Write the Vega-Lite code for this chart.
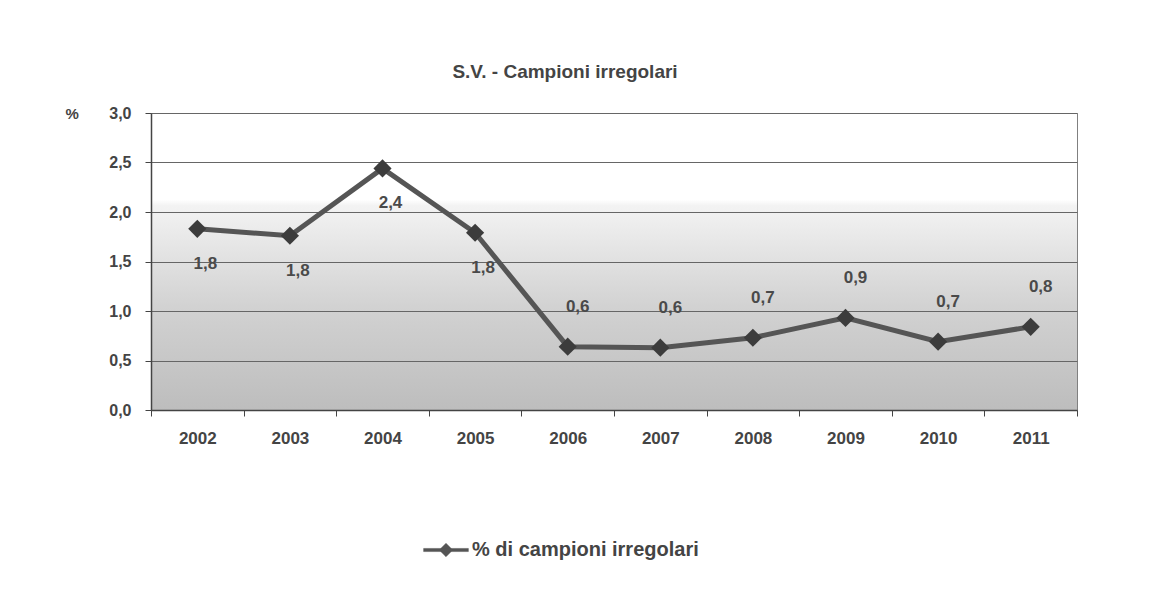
{
  "$schema": "https://vega.github.io/schema/vega-lite/v6.json",
  "width": 926,
  "height": 297,
  "autosize": {"type": "none"},
  "padding": {"left": 151, "top": 113, "right": 72, "bottom": 183},
  "background": "white",
  "config": {
    "locale": {"number": {"decimal": ",", "thousands": ".", "grouping": [3], "currency": ["", " €"]}},
    "font": "Liberation Sans",
    "view": {
      "stroke": "#808080",
      "strokeWidth": 1,
      "fill": {
        "gradient": "linear", "x1": 0, "y1": 0, "x2": 0, "y2": 1,
        "stops": [
          {"offset": 0, "color": "#ffffff"},
          {"offset": 0.29, "color": "#ffffff"},
          {"offset": 0.31, "color": "#f3f3f3"},
          {"offset": 0.65, "color": "#d2d2d2"},
          {"offset": 1, "color": "#bdbdbd"}
        ]
      }
    }
  },
  "title": {
    "text": "S.V. - Campioni  irregolari",
    "fontSize": 19,
    "fontWeight": "bold",
    "color": "#444444",
    "anchor": "middle",
    "frame": "group",
    "dx": -49,
    "offset": 23
  },
  "data": {
    "values": [
      {"anno": "2002", "valore": 1.83},
      {"anno": "2003", "valore": 1.76},
      {"anno": "2004", "valore": 2.44},
      {"anno": "2005", "valore": 1.79},
      {"anno": "2006", "valore": 0.64},
      {"anno": "2007", "valore": 0.63},
      {"anno": "2008", "valore": 0.73},
      {"anno": "2009", "valore": 0.93},
      {"anno": "2010", "valore": 0.69},
      {"anno": "2011", "valore": 0.84}
    ]
  },
  "encoding": {
    "x": {
      "field": "anno",
      "type": "ordinal",
      "scale": {"paddingInner": 0, "paddingOuter": 0},
      "axis": {
        "title": null,
        "labelAngle": 0,
        "labelFont": "Liberation Sans",
        "labelFontSize": 17,
        "labelFontWeight": "bold",
        "labelColor": "#444444",
        "labelPadding": 14,
        "tickBand": "extent",
        "tickSize": 6,
        "tickColor": "#444444",
        "domainColor": "#444444",
        "domainWidth": 1.5,
        "grid": false
      }
    },
    "y": {
      "field": "valore",
      "type": "quantitative",
      "scale": {"domain": [0, 3], "nice": false},
      "axis": {
        "title": "%",
        "titleAngle": 0,
        "titleAlign": "left",
        "titleBaseline": "middle",
        "titleX": -86,
        "titleY": 0,
        "titleFontSize": 15,
        "titleFontWeight": "bold",
        "titleColor": "#444444",
        "values": [0, 0.5, 1, 1.5, 2, 2.5, 3],
        "format": ".1f",
        "labelFontSize": 16,
        "labelFontWeight": "bold",
        "labelColor": "#444444",
        "labelPadding": 14,
        "tickSize": 6,
        "tickColor": "#444444",
        "domainColor": "#444444",
        "domainWidth": 1.5,
        "grid": true,
        "gridColor": "#666666",
        "gridWidth": 1
      }
    }
  },
  "layer": [
    {
      "mark": {"type": "line", "strokeWidth": 5, "color": "#555555"},
      "encoding": {
        "color": {
          "datum": "% di campioni irregolari",
          "type": "nominal",
          "scale": {"range": ["#555555"]},
          "legend": {
            "title": null,
            "orient": "none",
            "legendX": 272,
            "legendY": 414,
            "labelFontSize": 20,
            "labelFontWeight": "bold",
            "labelColor": "#444444",
            "labelOffset": 3,
            "labelLimit": 500,
            "symbolType": "M-1,-0.07H1V0.07H-1Z M0,-0.3L0.3,0L0,0.3L-0.3,0Z",
            "symbolSize": 2000,
            "symbolFillColor": "#555555",
            "symbolStrokeColor": "#555555",
            "symbolStrokeWidth": 0.5
          }
        }
      }
    },
    {
      "mark": {"type": "point", "shape": "diamond", "filled": true, "size": 330, "color": "#3c3c3c", "opacity": 1}
    },
    {
      "transform": [{"filter": "datum.valore > 1.5"}],
      "mark": {"type": "text", "dx": 8, "dy": 35, "fontSize": 17, "fontWeight": "bold", "color": "#4a4a4a"},
      "encoding": {"text": {"field": "valore", "type": "quantitative", "format": ".1f"}}
    },
    {
      "transform": [{"filter": "datum.valore <= 1.5"}],
      "mark": {"type": "text", "dx": 10, "dy": -40, "fontSize": 17, "fontWeight": "bold", "color": "#4a4a4a"},
      "encoding": {"text": {"field": "valore", "type": "quantitative", "format": ".1f"}}
    }
  ]
}
